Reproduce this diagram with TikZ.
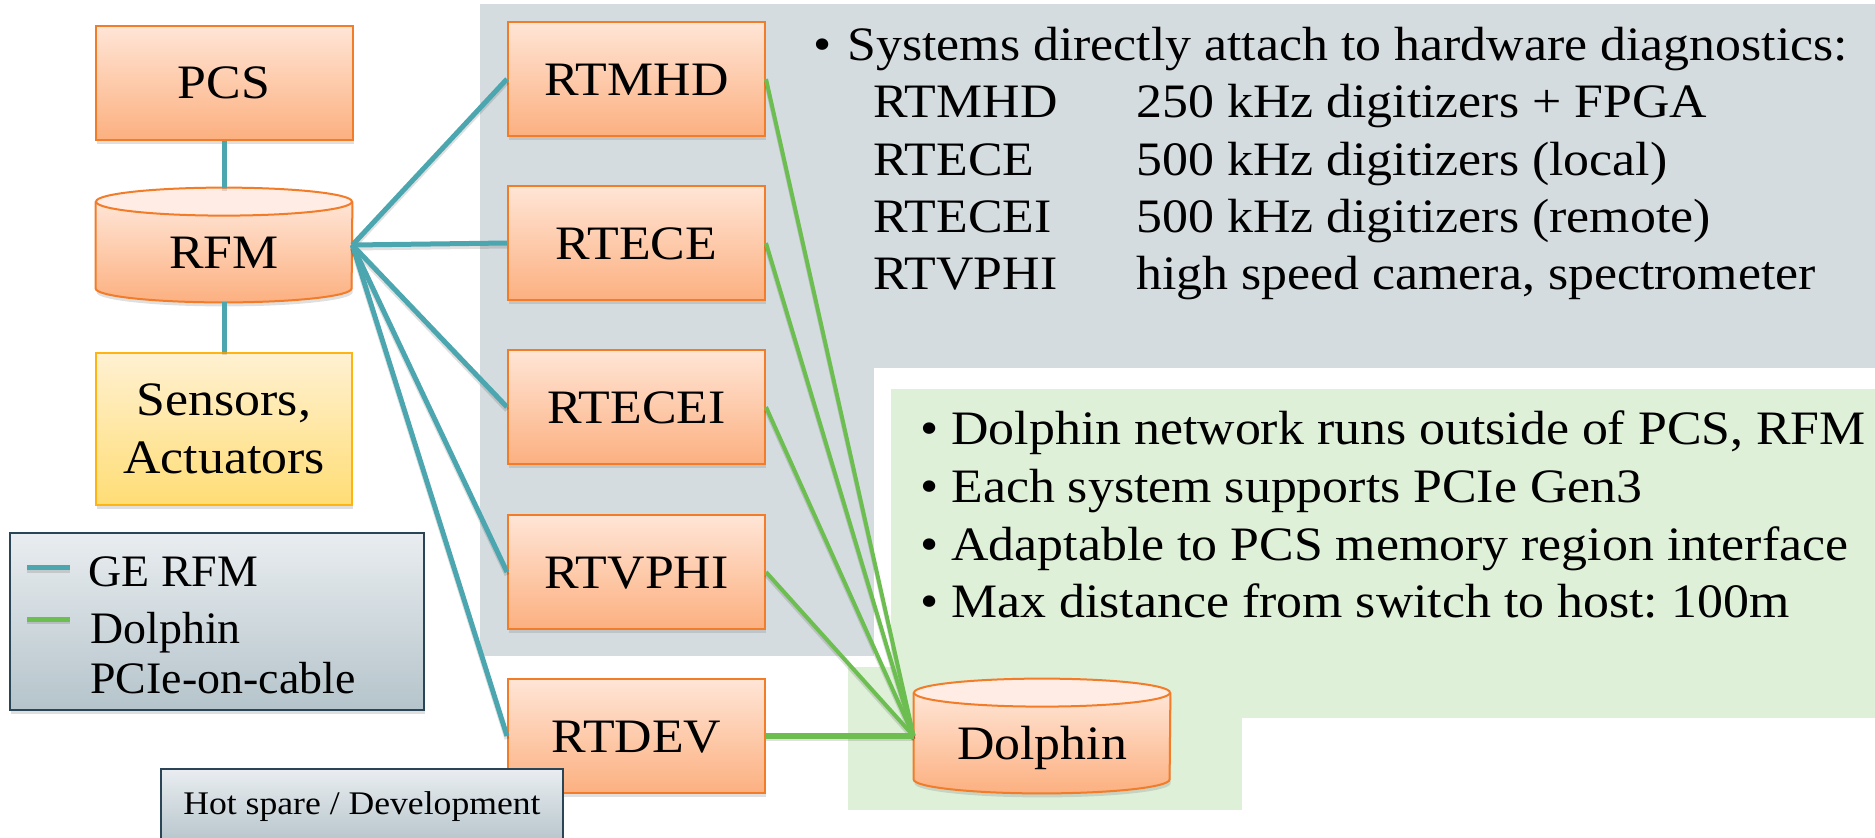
\documentclass[tikz,border=0pt]{standalone}
\usepackage{fontspec}
\setmainfont{Liberation Serif}
\newfontfamily\widefont{Liberation Serif}[FakeStretch=1.08]
\newfontfamily\lgfont{Liberation Serif}[FakeStretch=1.02]
\frenchspacing
\usetikzlibrary{shadows,calc}
\definecolor{tealL}{RGB}{75,166,175}
\definecolor{greenL}{RGB}{108,190,80}
\definecolor{grayBG}{RGB}{213,220,223}
\definecolor{greenBG}{RGB}{223,240,217}
\definecolor{orB}{RGB}{242,124,40}
\definecolor{orTop}{RGB}{255,229,214}
\definecolor{orBot}{RGB}{252,176,128}
\definecolor{cylTop}{RGB}{255,236,228}
\definecolor{yeB}{RGB}{255,180,20}
\definecolor{yeTop}{RGB}{255,241,210}
\definecolor{yeBot}{RGB}{255,221,117}
\definecolor{lgB}{RGB}{42,70,86}
\definecolor{lgTop}{RGB}{233,237,240}
\definecolor{lgBot}{RGB}{181,196,203}
\tikzset{
  shad/.style={drop shadow={shadow xshift=0.5pt, shadow yshift=-2pt, opacity=0.25}},
  sysbox/.style={draw=orB, line width=1pt, top color=orTop, bottom color=orBot,
    minimum width=128.5pt, minimum height=57pt, inner sep=0pt,
    font=\widefont\fontsize{24}{28}\selectfont, text height=16pt, text depth=0pt, shad},
  yebox/.style={draw=yeB, line width=1pt, top color=yeTop, bottom color=yeBot,
    minimum width=128pt, minimum height=76pt, inner sep=0pt, align=center,
    font=\widefont\fontsize{24}{29}\selectfont, shad},
  cylnode/.style={minimum width=128pt, minimum height=57pt, inner sep=0pt,
    font=\widefont\fontsize{24}{28}\selectfont, text height=30pt, text depth=7pt},
  lgbox/.style={draw=lgB, line width=1pt, top color=lgTop, bottom color=lgBot, inner sep=0pt, shad},
  tealline/.style={draw=tealL, line width=2.5pt,
    preaction={draw=black, opacity=0.12, line width=2.5pt, transform canvas={yshift=-1.5pt}}},
  greenline/.style={draw=greenL, line width=2pt,
    preaction={draw=black, opacity=0.12, line width=2pt, transform canvas={yshift=-1.5pt}}},
  txt/.style={anchor=base west, inner sep=0pt, font=\widefont\fontsize{24}{28}\selectfont},
  lgtxt/.style={anchor=base west, inner sep=0pt, font=\lgfont\fontsize{22.5}{27}\selectfont},
}
\newcommand\cylshape[1]{%
  \fill[top color=orTop, bottom color=orBot, shad]
    ($(#1.north west)+(0,14)$) -- ($(#1.south west)+(0,-14)$)
    arc[start angle=180, end angle=0, x radius=128, y radius=14]
    -- ($(#1.north east)+(0,14)$) -- cycle;
  \draw[orB, line width=1pt]
    ($(#1.north west)+(0,14)$) -- ($(#1.south west)+(0,-14)$)
    arc[start angle=180, end angle=0, x radius=128, y radius=14]
    -- ($(#1.north east)+(0,14)$);
  \filldraw[fill=cylTop, draw=orB, line width=1pt] ($(#1.north)+(0,14)$) ellipse[x radius=128, y radius=14];
}
\begin{document}
\begin{tikzpicture}[x=0.5pt, y=-0.5pt]
\useasboundingbox (0,0) rectangle (1875,837);
% backgrounds
\fill[grayBG] (480,4) rectangle (1875,656);
\fill[white] (874,368) rectangle (1875,760);
\fill[greenBG] (891,389) rectangle (1875,718);
\fill[greenBG] (848,667) rectangle (1242,810);
% left column
\node[sysbox] (PCS) at (224,82.5) {PCS};
\node[cylnode] (RFM) at (224,245) {};
\cylshape{RFM}
\node[cylnode] at (224,245) {RFM};
\node[yebox] (SA) at (224,429) {Sensors,\\Actuators};
% RT boxes
\node[sysbox] (RTMHD) at (636.5,79) {RTMHD};
\node[sysbox] (RTECE) at (636.5,243) {RTECE};
\node[sysbox] (RTECEI) at (636.5,407) {RTECEI};
\node[sysbox] (RTVPHI) at (636.5,572) {RTVPHI};
\node[sysbox] (RTDEV) at (636.5,736) {RTDEV};
% Dolphin
\node[cylnode] (DOL) at (1042,736) {};
\cylshape{DOL}
\node[cylnode] at (1042,736) {Dolphin};
% connectors
\draw[tealline] (PCS.south) -- (RFM.north);
\draw[tealline] (RFM.south) -- (SA.north);
\foreach \n in {RTMHD,RTECE,RTECEI,RTVPHI,RTDEV}
  \draw[tealline] (RFM.east) -- (\n.west);
\foreach \n in {RTMHD,RTECE,RTECEI,RTVPHI}
  \draw[greenline] (\n.east) -- (DOL.west);
\draw[greenline, line width=3pt] (RTDEV.east) -- (DOL.west);
% legend
\node[lgbox, minimum width=207pt, minimum height=88.5pt] (LEG) at (217,621.5) {};
\coordinate (l1a) at (27,567); \coordinate (l1b) at (70,567);
\coordinate (l2a) at (27,619); \coordinate (l2b) at (70,619);
\draw[tealline] (l1a) -- (l1b);
\draw[greenline, line width=2.5pt] (l2a) -- (l2b);
\node[lgtxt] (lg1) at (88,586) {GE RFM};
\node[lgtxt] (lg2) at (90,643) {Dolphin};
\node[lgtxt] (lg3) at (90,693) {PCIe-on-cable};
% hot spare
\node[lgbox, anchor=north west, minimum width=201pt, minimum height=38pt,
  font=\widefont\fontsize{16.5}{20}\selectfont] (HOT) at (160,768) {Hot spare / Development};
% upper text
\node[txt] (b0) at (813,60) {•};
\node[txt] (t0) at (847,60) {Systems directly attach to hardware diagnostics:};
\node[txt] (r1) at (873,117) {RTMHD};   \node[txt] (d1) at (1136,117) {250 kHz digitizers + FPGA};
\node[txt] (r2) at (873,175) {RTECE};   \node[txt] (d2) at (1136,175) {500 kHz digitizers (local)};
\node[txt] (r3) at (873,232) {RTECEI};  \node[txt] (d3) at (1136,232) {500 kHz digitizers (remote)};
\node[txt] (r4) at (873,289) {RTVPHI};  \node[txt] (d4) at (1136,289) {high speed camera, spectrometer};
% lower text
\node[txt] (c1) at (920,444) {•}; \node[txt] (e1) at (951,444) {Dolphin network runs outside of PCS, RFM};
\node[txt] (c2) at (920,502) {•}; \node[txt] (e2) at (951,502) {Each system supports PCIe Gen3};
\node[txt] (c3) at (920,560) {•}; \node[txt] (e3) at (951,560) {Adaptable to PCS memory region interface};
\node[txt] (c4) at (920,617) {•}; \node[txt] (e4) at (951,617) {Max distance from switch to host: 100m};
\end{tikzpicture}
\end{document}
